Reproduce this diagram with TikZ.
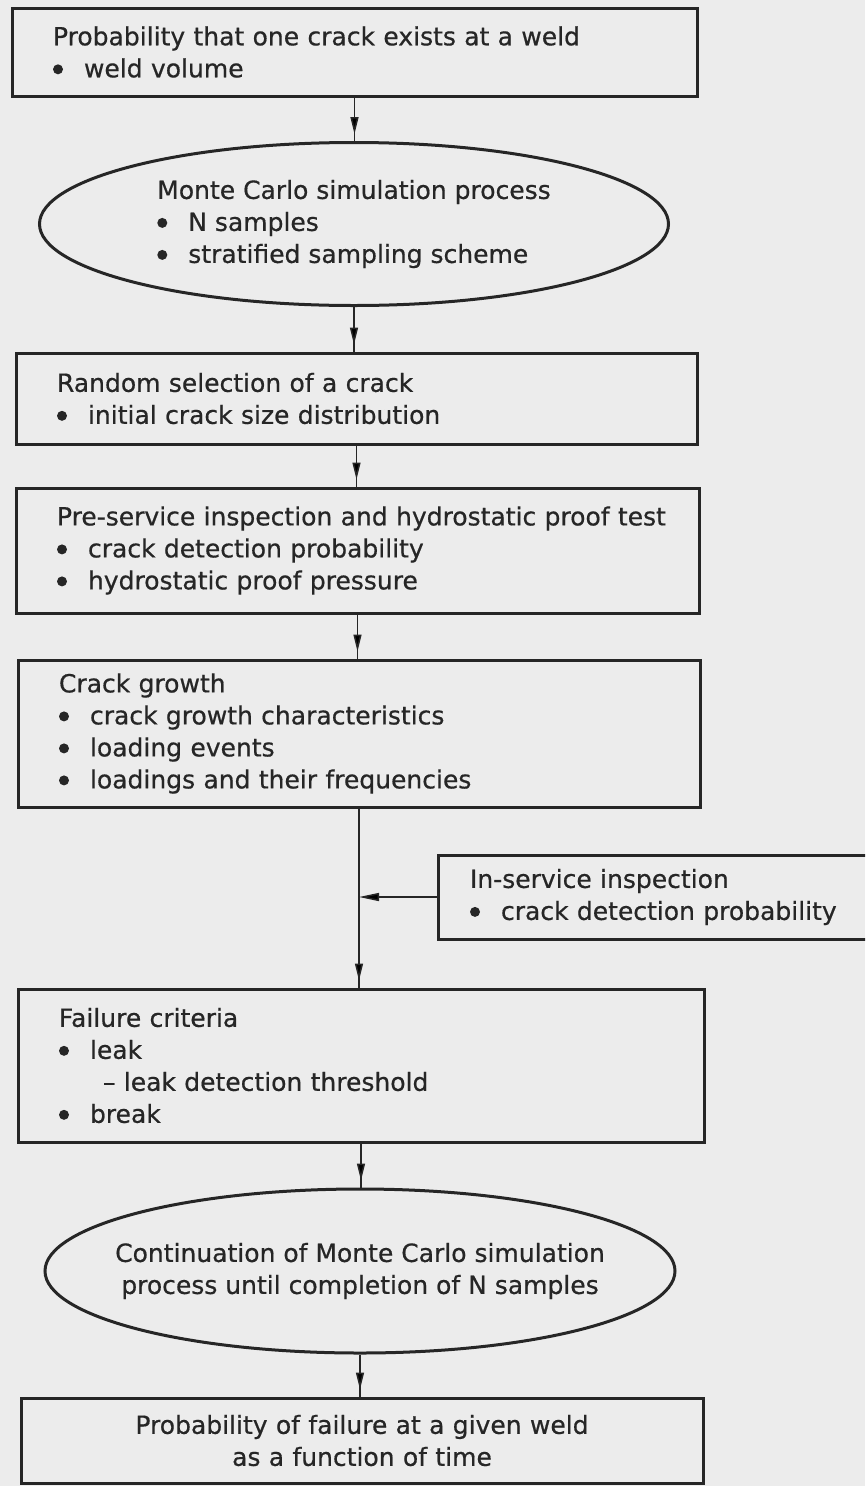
\documentclass[tikz,border=0pt]{standalone}
\usepackage{fontspec}
\setmainfont{DejaVu Sans}
\newfontfamily\flowfont{DejaVu Sans}[FakeBold=0.6]
\usetikzlibrary{arrows.meta,shapes.geometric,decorations.markings}

\definecolor{paper}{HTML}{ECECEC}
\definecolor{ink}{HTML}{262626}

% bullet with the gap after it
\newcommand{\bul}{\makebox[31pt][l]{\tikz[baseline=0pt]\fill[ink] (5pt,8pt) circle (5pt);}}

\tikzset{
    box/.style={draw=ink, line width=3pt, rectangle, align=left, inner xsep=41pt, inner ysep=0pt,
        font=\flowfont\fontsize{25}{32}\selectfont, text=ink},
    oval/.style={draw=ink, line width=3pt, ellipse, inner sep=0pt,
        font=\flowfont\fontsize{25}{32}\selectfont, text=ink},
    flow/.style={draw=ink, line width=1.5pt, postaction={decorate},
        decoration={markings, mark=at position -7pt with {\arrow{Triangle[length=17pt,width=8pt]}}}},
}

\begin{document}
\begin{tikzpicture}[x=1pt, y=-1pt]
    % page and paper colour
    \clip (0,0) rectangle (865,1486);
    \fill[paper] (0,0) rectangle (865,1486);

    % main column
    \node[box, minimum width=685pt, minimum height=88pt, text width=603pt] (exist) at (354.5,52)
        {Probability that one crack exists at a weld\\ \bul weld volume};
    \node[oval, minimum width=629pt, minimum height=163pt, align=left] (mc) at (354,224)
        {Monte Carlo simulation process\\ \bul N samples\\ \bul stratified sampling scheme};
    \node[box, minimum width=681pt, minimum height=91pt, text width=599pt] (select) at (356.5,398.5)
        {Random selection of a crack\\ \bul initial crack size distribution};
    \node[box, minimum width=683pt, minimum height=125pt, text width=601pt] (psi) at (357.5,550.5)
        {\mbox{Pre-service inspection and hydrostatic proof test}\\ \bul crack detection probability\\ \bul hydrostatic proof pressure};
    \node[box, minimum width=682pt, minimum height=147pt, text width=600pt] (growth) at (359,733.5)
        {Crack growth\\ \bul crack growth characteristics\\ \bul loading events\\ \bul loadings and their frequencies};
    \node[box, minimum width=686pt, minimum height=153pt, text width=604pt] (fail) at (361,1065.5)
        {Failure criteria\\ \bul leak\\ \hspace*{44pt}– leak detection threshold\\ \bul break};
    \node[oval, inner xsep=-23pt, minimum width=630pt, minimum height=164pt, align=center] (cont) at (360,1271)
        {Continuation of Monte Carlo simulation\\ process until completion of N samples};
    \node[box, minimum width=682pt, minimum height=85pt, text width=600pt, align=center] (result) at (362,1440.5)
        {Probability of failure at a given weld\\ as a function of time};

    % side box, running off the right edge
    \node[box, inner xsep=32pt, minimum width=482pt, minimum height=84pt, text width=418pt] (isi) at (679,897)
        {In-service inspection\\ \bul crack detection probability};

    % connectors
    \draw[flow] (exist.south) -- (exist.south |- mc.north);
    \draw[flow] (mc.south) -- (mc.south |- select.north);
    \draw[flow] (select.south) -- (select.south |- psi.north);
    \draw[flow] (psi.south) -- (psi.south |- growth.north);
    \draw[flow] (growth.south) -- (growth.south |- fail.north);
    \draw[flow] (fail.south) -- (fail.south |- cont.north);
    \draw[flow] (cont.south) -- (cont.south |- result.north);
    \coordinate (join) at (isi.west -| growth.south);
    \draw[draw=ink, line width=1.5pt, -{Triangle[length=20pt,width=8pt]}] (isi.west) -- (join);
\end{tikzpicture}
\end{document}
